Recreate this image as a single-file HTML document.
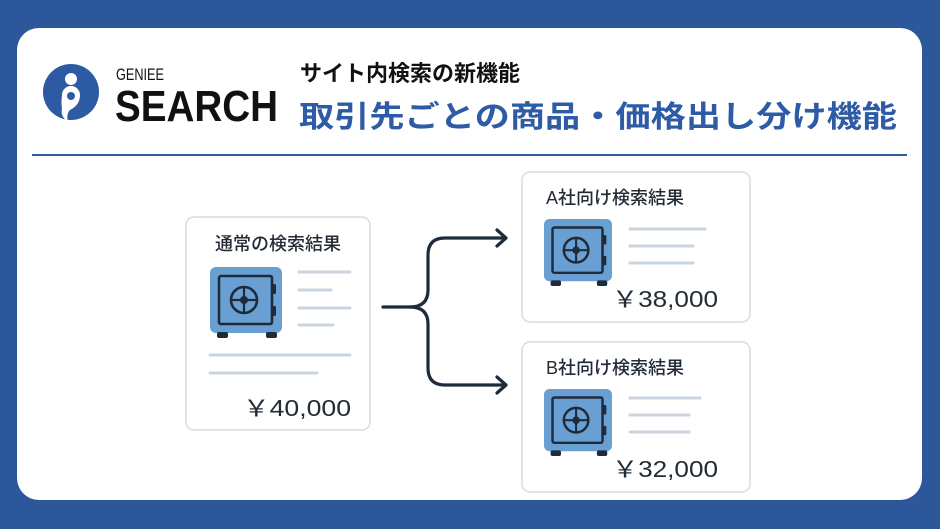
<!DOCTYPE html>
<html><head><meta charset="utf-8"><style>
html,body{margin:0;padding:0;background:#2C579B;}
svg{display:block}
text{font-family:"Liberation Sans","Noto Sans CJK JP",sans-serif;}
</style></head><body>
<svg width="940" height="529" viewBox="0 0 940 529" xmlns="http://www.w3.org/2000/svg">
<defs>
<g id="safe">
  <rect x="0" y="0" width="72" height="66" rx="6" fill="#6A9FD4"/>
  <rect x="9" y="9" width="53" height="48" rx="2" fill="none" stroke="#1E2B3A" stroke-width="2.6"/>
  <circle cx="34" cy="33" r="13" fill="none" stroke="#1E2B3A" stroke-width="2.6"/>
  <line x1="21" y1="33" x2="47" y2="33" stroke="#1E2B3A" stroke-width="2.2"/>
  <line x1="34" y1="20" x2="34" y2="46" stroke="#1E2B3A" stroke-width="2.2"/>
  <circle cx="34" cy="33" r="4" fill="#1E2B3A"/>
  <rect x="62" y="17" width="4" height="10" rx="1.5" fill="#1E2B3A"/>
  <rect x="62" y="39" width="4" height="10" rx="1.5" fill="#1E2B3A"/>
  <rect x="7" y="65" width="11" height="6" rx="2" fill="#1E2B3A"/>
  <rect x="56" y="65" width="11" height="6" rx="2" fill="#1E2B3A"/>
</g>
</defs>
<rect x="17" y="28" width="905" height="472" rx="22" fill="#fff"/>
<!-- logo -->
<circle cx="71" cy="92" r="28" fill="#2C5BA4"/>
<circle cx="71" cy="79" r="6" fill="#fff"/>
<path d="M62 95 a9 9 0 1 1 18 0 q0 10 -10 15 q-4 4 -2 12 q-8 -6 -6 -13 q-1 -6 -0 -14z" fill="#fff"/>
<circle cx="71" cy="96" r="4" fill="#2C5BA4"/>
<text x="116" y="80" font-size="17" fill="#111" style="font-family:'Liberation Sans Narrow','Liberation Sans',sans-serif" textLength="48" lengthAdjust="spacingAndGlyphs">GENIEE</text>
<text x="115" y="121" font-size="44" font-weight="bold" fill="#111" style="font-family:'Liberation Sans Narrow','Liberation Sans',sans-serif" textLength="163" lengthAdjust="spacingAndGlyphs">SEARCH</text>
<text x="300" y="81" font-size="22" font-weight="bold" fill="#111">サイト内検索の新機能</text>
<text x="299" y="127" font-size="30" font-weight="bold" fill="#2E5BA6" textLength="598" lengthAdjust="spacingAndGlyphs">取引先ごとの商品・価格出し分け機能</text>
<line x1="32" y1="155" x2="907" y2="155" stroke="#2E5BA6" stroke-width="2"/>

<!-- left card -->
<rect x="186" y="217" width="184" height="213" rx="8" fill="#fff" stroke="#D3DCE6" stroke-width="1.5"/>
<text x="278" y="250" font-size="18" font-weight="500" fill="#222B36" text-anchor="middle">通常の検索結果</text>
<use href="#safe" x="210" y="267"/>
<g stroke="#C9D4DF" stroke-width="3" stroke-linecap="round">
<line x1="299" y1="272" x2="350" y2="272"/><line x1="299" y1="290" x2="331" y2="290"/>
<line x1="299" y1="308" x2="350" y2="308"/><line x1="299" y1="325" x2="333" y2="325"/>
<line x1="210" y1="355" x2="350" y2="355"/><line x1="210" y1="373" x2="317" y2="373"/>
</g>
<text x="351" y="416" font-size="23" fill="#222B36" text-anchor="end" textLength="108" lengthAdjust="spacingAndGlyphs">￥40,000</text>

<!-- connectors -->
<g fill="none" stroke="#1E2B3A" stroke-width="3.2" stroke-linecap="round" stroke-linejoin="round">
<path d="M383 307 H410 Q428 307 428 290 V255 Q428 238 445 238 H505"/>
<path d="M410 307 Q428 307 428 324 V368 Q428 385 445 385 H505"/>
<path d="M497 230 L506 238 L497 246"/>
<path d="M497 377 L506 385 L497 393"/>
</g>

<!-- card A -->
<rect x="522" y="172" width="228" height="150" rx="8" fill="#fff" stroke="#D3DCE6" stroke-width="1.5"/>
<text x="546" y="204" font-size="18" font-weight="500" fill="#222B36">A社向け検索結果</text>
<g transform="translate(544,219) scale(0.944)"><use href="#safe"/></g>
<g stroke="#C9D4DF" stroke-width="3" stroke-linecap="round">
<line x1="630" y1="229" x2="705" y2="229"/><line x1="630" y1="246" x2="693" y2="246"/><line x1="630" y1="263" x2="693" y2="263"/>
</g>
<text x="718" y="307" font-size="23" fill="#222B36" text-anchor="end" textLength="106" lengthAdjust="spacingAndGlyphs">￥38,000</text>

<!-- card B -->
<rect x="522" y="342" width="228" height="150" rx="8" fill="#fff" stroke="#D3DCE6" stroke-width="1.5"/>
<text x="546" y="374" font-size="18" font-weight="500" fill="#222B36">B社向け検索結果</text>
<g transform="translate(544,389) scale(0.944)"><use href="#safe"/></g>
<g stroke="#C9D4DF" stroke-width="3" stroke-linecap="round">
<line x1="630" y1="398" x2="700" y2="398"/><line x1="630" y1="415" x2="689" y2="415"/><line x1="630" y1="432" x2="689" y2="432"/>
</g>
<text x="718" y="477" font-size="23" fill="#222B36" text-anchor="end" textLength="106" lengthAdjust="spacingAndGlyphs">￥32,000</text>
</svg>
</body></html>
